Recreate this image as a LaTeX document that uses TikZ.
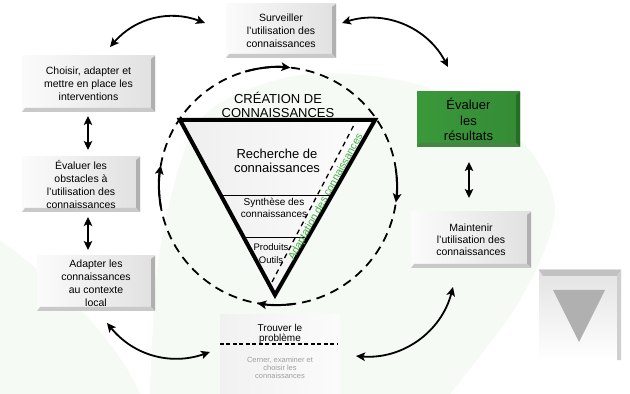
\documentclass[tikz,border=0pt]{standalone}
\usepackage{fontspec}
\setmainfont{Liberation Sans}
\usetikzlibrary{arrows.meta,calc}
\definecolor{bggreen}{RGB}{246,250,245}
\definecolor{evgreen}{RGB}{58,152,58}
\definecolor{evgreenD}{RGB}{36,110,36}
\definecolor{adgreen}{RGB}{70,170,70}
\tikzset{
  bevel/.style n args={4}{inner sep=0pt, align=center, left color=#1, right color=#2,
    path picture={
      \fill[#3] (path picture bounding box.north east) -- (path picture bounding box.south east)
        -- ([shift={(-4,4)}]path picture bounding box.south east) -- ([shift={(-4,-3)}]path picture bounding box.north east) -- cycle;
      \fill[#4] (path picture bounding box.south west) -- (path picture bounding box.south east)
        -- ([shift={(-4,4)}]path picture bounding box.south east) -- ([shift={(3,4)}]path picture bounding box.south west) -- cycle;}},
  greybox/.style={bevel={gray!3}{gray!24}{gray!62}{gray!42}, font=\fontsize{10.5}{13}\selectfont},
  conn/.style={line width=1.8pt, <->},
  circarr/.style={line width=2pt, ->},
  dashcirc/.style={line width=1.8pt, dash pattern=on 9pt off 6pt},
}
\begin{document}
\begin{tikzpicture}[x=1pt,y=1pt,>={Stealth[length=9pt,width=8.5pt,inset=2pt]}]
\useasboundingbox (0,0) rectangle (630,394);
\fill[white] (0,0) rectangle (630,394);
% faint background shapes
\begin{scope}
\clip (0,0) rectangle (630,394);
\fill[bggreen] plot[smooth] coordinates {(150,0) (160,144) (200,274) (300,319) (420,309) (520,254) (555,184) (520,94) (450,0)} -- cycle;
\fill[bggreen] (0,154) .. controls (60,110) and (120,50) .. (140,0) -- (0,0) -- cycle;
\end{scope}

% boxes
\node[greybox, minimum width=110, minimum height=54] (surv) at (281,363) {Surveiller\\l'utilisation des\\connaissances};
\node[greybox, minimum width=133, minimum height=56] (choisir) at (88.5,310) {Choisir, adapter et\\mettre en place les\\interventions};
\node[greybox, minimum width=118, minimum height=55] (obst) at (81,209.5) {Évaluer les\\obstacles à\\l'utilisation des\\connaissances};
\node[greybox, minimum width=118, minimum height=55] (adapt) at (96,110.5) {Adapter les\\connaissances\\au contexte\\local};
\node[bevel={evgreen}{evgreen!92!black}{evgreenD}{evgreenD!85}, font=\fontsize{13}{15.5}\selectfont, minimum width=103, minimum height=55] (evres) at (468.5,274.5) {Évaluer\\les\\résultats};
\node[greybox, font=\fontsize{10.5}{12}\selectfont, minimum width=120, minimum height=56] (maint) at (471,154) {Maintenir\\l'utilisation des\\connaissances};

% bottom-right triangle box
\node[inner sep=0pt, minimum width=82, minimum height=90, top color=gray!22, bottom color=white] (tribox) at (580,79) {};
\fill[gray!48] (tribox.north west) -- (tribox.north east) -- ([shift={(-4,-6)}]tribox.north east) -- ([shift={(4,-6)}]tribox.north west) -- cycle;
\fill[gray!38] (tribox.north east) -- (tribox.south east) -- ([xshift=-4]tribox.south east) -- ([shift={(-4,-6)}]tribox.north east) -- cycle;
\fill[gray!62] (553,104) -- (605,104) -- (579,52) -- cycle;

% Trouver le probleme
\node[inner sep=0pt, minimum width=120, minimum height=79, left color=gray!11, right color=gray!3] (trouv) at (280,39.5) {};
\node[font=\fontsize{10}{10}\selectfont, align=center] (trtxt) at (280,60) {Trouver le\\problème};
\draw[line width=1.3pt, dash pattern=on 4pt off 2.5pt] ([yshift=10.5]trouv.west) -- ([shift={(-2,10.5)}]trouv.east);
\node[font=\fontsize{7.5}{8.2}\selectfont, text=gray!75, align=center] (cerner) at (280,26) {Cerner, examiner et\\choisir les\\connaissances};

% dashed circle
\coordinate (cc) at (278,208);
\draw[dashcirc] (cc) circle[radius=119];
\draw[circarr] ([shift={(106:119)}]cc) arc[start angle=106,end angle=84,radius=119];
\draw[circarr] ([shift={(8:119)}]cc) arc[start angle=8,end angle=-8,radius=119];
\draw[circarr] ([shift={(-82:119)}]cc) arc[start angle=-82,end angle=-100,radius=119];
\draw[circarr] ([shift={(190:119)}]cc) arc[start angle=190,end angle=170,radius=119];

% triangle
\coordinate (T1) at (180,274);
\coordinate (T2) at (375,274);
\coordinate (T3) at (275,99);
\fill[left color=gray!13, right color=gray!2] (T1) -- (T2) -- (T3) -- cycle;
\draw[line width=0.9pt] ($(T1)!0.4286!(T3)$) -- ($(T2)!0.4286!(T3)$);
\draw[line width=0.9pt] ($(T1)!0.674!(T3)$) -- ($(T2)!0.674!(T3)$);
\draw[line width=1.3pt, dash pattern=on 5pt off 4pt] (272,112) -- (355,271);
\draw[line width=4pt] (T1) -- (T2) -- (T3) -- cycle;

\node[font=\fontsize{13}{14.5}\selectfont, align=center] (crea) at (278,289) {CRÉATION DE\\CONNAISSANCES};
\node[font=\fontsize{13}{14}\selectfont, align=center] (rech) at (277,233) {Recherche de\\connaissances};
\node[font=\fontsize{10}{11.5}\selectfont, align=center] (synth) at (274,186) {Synthèse des\\connaissances};
\node[font=\fontsize{9.5}{13}\selectfont, align=center] (prod) at (271,140) {Produits\\Outils};
\node[rotate=61, text=adgreen, font=\fontsize{10.5}{12}\selectfont, inner sep=0pt] (adtxt) at (326,197) {Adaptation des connaissances};

% connectors
\coordinate (a1s) at (110,347);
\coordinate (a1e) at (205,371);
\draw[conn] (a1s) to[bend left=35] (a1e);
\coordinate (a2s) at (342,371);
\coordinate (a2e) at (448,327);
\draw[conn] (a2s) to[bend left=40] (a2e);
\coordinate (v1a) at (88,278);
\coordinate (v1b) at (88,244);
\draw[conn] (v1a) -- (v1b);
\coordinate (v2a) at (88,177);
\coordinate (v2b) at (88,144);
\draw[conn] (v2a) -- (v2b);
\coordinate (v3a) at (469,232);
\coordinate (v3b) at (469,196);
\draw[conn] (v3a) -- (v3b);
\coordinate (a5s) at (107,71);
\coordinate (a5e) at (210,42);
\draw[conn] (a5s) to[bend right=35] (a5e);
\coordinate (a6s) at (356,38);
\coordinate (a6e) at (453,107);
\draw[conn] (a6s) to[bend right=40] (a6e);
\end{tikzpicture}
\end{document}
